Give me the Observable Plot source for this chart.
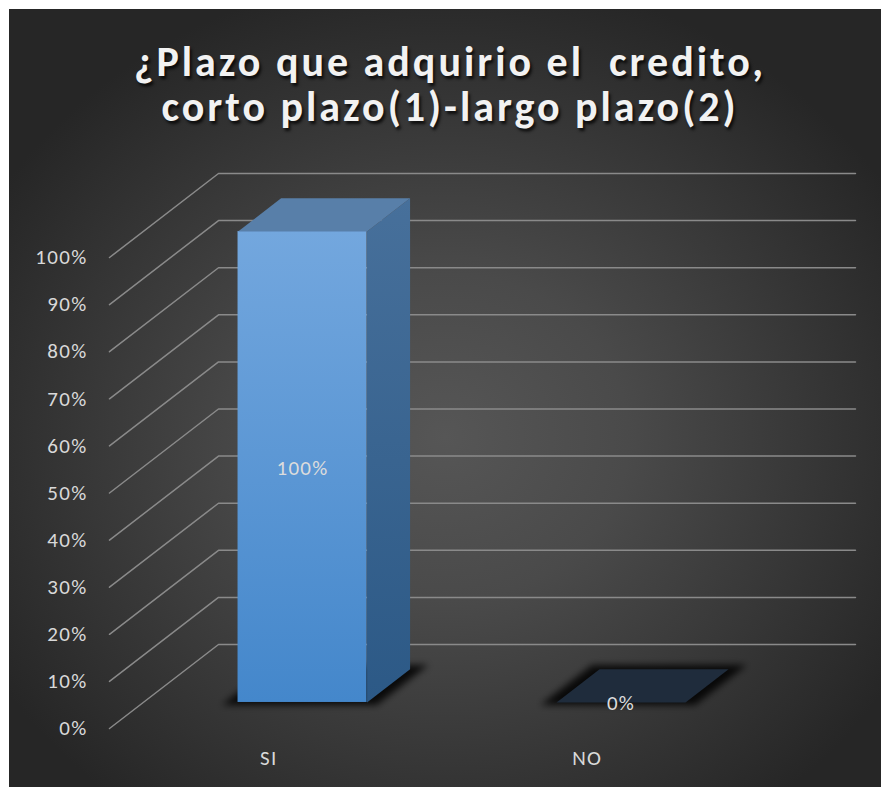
<!DOCTYPE html>
<html>
<head>
<meta charset="utf-8">
<script src="https://cdn.jsdelivr.net/npm/d3@7"></script>
<script src="https://cdn.jsdelivr.net/npm/@observablehq/plot@0.6"></script>
<style>
  html, body { margin: 0; padding: 0; background: #ffffff; }
  body { width: 883px; height: 787px; position: relative; overflow: hidden; }
  #card {
    position: absolute; left: 9px; top: 9px; width: 872px; height: 778px;
    background: radial-gradient(ellipse 60% 60% at 50% 55%, #565656 0%, #4a4a4a 35%, #262626 100%);
  }
  #title {
    height: 141px; box-sizing: border-box; padding-top: 30px; padding-left: 10px;
    text-align: center; color: #f2f2f2; font-family: Carlito, Calibri, Lato, sans-serif;
    font-weight: 700; font-size: 42px; line-height: 45px; letter-spacing: 3px; white-space: pre;
    text-shadow: 2px 3px 3px rgba(0,0,0,0.75);
  }
  #chart svg { display: block; }
  #chart svg text { letter-spacing: 1.3px; }
</style>
</head>
<body>
<div id="card">
  <div id="title"></div>
  <div id="chart"></div>
</div>
<script>
// ---- data ----
const titleLines = ["¿Plazo que adquirio el  credito,", "corto plazo(1)-largo plazo(2)"];
const categories = ["SI", "NO"];
const values = [100, 0];
const valueLabels = ["100%", "0%"];
const tickValues = [0, 10, 20, 30, 40, 50, 60, 70, 80, 90, 100];
const tickLabels = ["0%", "10%", "20%", "30%", "40%", "50%", "60%", "70%", "80%", "90%", "100%"];

document.getElementById("title").textContent = titleLines.join("\n");

// ---- 3D projection parameters (depth expressed in data units) ----
const DX = 0.3422;   // category units per unit depth
const DY = 17.83;    // value units per unit depth
const d0 = 0.31, d1 = 0.705; // bar depth span
const halfW = 0.2025;        // half bar width in category units
const nCat = categories.length;

const P = (x, y, depth) => ({x: x + depth * DX, y: y + depth * DY});

// gridlines: front-left -> back-left -> back-right
const grid = [];
tickValues.forEach(t => {
  [P(0, t, 0), P(0, t, 1), P(nCat, t, 1)].forEach(p => grid.push({...p, z: t}));
});

const bars = categories.map((c, i) => ({c, i, v: values[i], x0: i + 0.5 - halfW, x1: i + 0.5 + halfW}));

const frontFaces = bars.filter(b => b.v > 0).map(b => ({
  x1: b.x0 + d0 * DX, x2: b.x1 + d0 * DX, y1: d0 * DY, y2: b.v + d0 * DY
}));
const sideFaces = [], topFaces = [], shadows = [];
bars.forEach(b => {
  if (b.v > 0) {
    [P(b.x1, 0, d0), P(b.x1, 0, d1), P(b.x1, b.v, d1), P(b.x1, b.v, d0)].forEach(p => sideFaces.push({...p, z: b.c}));
  }
  const col = b.v > 0 ? "#587fa9" : "#1f2c3c";
  [P(b.x0, b.v, d0), P(b.x0, b.v, d1), P(b.x1, b.v, d1), P(b.x1, b.v, d0)].forEach(p => topFaces.push({...p, z: b.c, col}));
  const e = 0.04;
  [P(b.x0 - e, 0, d0 - 0.03), P(b.x0 - e, 0, d1 + 0.05), P(b.x1 + e, 0, d1 + 0.05), P(b.x1 + e, 0, d0 - 0.03)].forEach(p => shadows.push({...p, z: b.c}));
});

const labelFont = "Carlito, Calibri, Lato, sans-serif";

const svg = Plot.plot({
  width: 872,
  height: 637,
  margin: 0,
  style: {background: "transparent", overflow: "visible"},
  x: {type: "linear", domain: [0, nCat], range: [100, 737], axis: null},
  y: {type: "linear", domain: [0, 100], range: [578, 107], axis: null},
  color: {type: "identity"},
  marks: [
    Plot.line(grid, {x: "x", y: "y", z: "z", stroke: "#8a8a8a", strokeWidth: 1.5}),
    Plot.line(shadows, {x: "x", y: "y", z: "z", fill: "#000", fillOpacity: 0.85, stroke: "none", className: "shadow"}),
    Plot.rect(frontFaces, {x1: "x1", x2: "x2", y1: "y1", y2: "y2", fill: "url(#gFront)"}),
    Plot.line(sideFaces, {x: "x", y: "y", z: "z", fill: "url(#gSide)", stroke: "none"}),
    Plot.line(topFaces, {x: "x", y: "y", z: "z", fill: "col", stroke: "none"}),
    Plot.text(tickValues, {x: 0, y: d => d, text: (d, i) => tickLabels[i], dx: -22, textAnchor: "end", fill: "#d9d9d9", fontSize: 21, fontFamily: labelFont}),
    Plot.text(bars, {x: b => b.i + 0.5, y: 0, text: "c", dy: 30, fill: "#d9d9d9", fontSize: 21, fontFamily: labelFont}),
    Plot.text(bars, {x: b => b.i + 0.5 + d0 * DX, y: b => b.v / 2 + d0 * DY, text: (b, i) => valueLabels[i], dy: 1, fill: "#dcdcdc", fontSize: 21, fontFamily: labelFont})
  ]
});

// gradient + blur definitions
const defs = d3.select(svg).insert("defs", ":first-child");
const gf = defs.append("linearGradient").attr("id", "gFront").attr("x1", 0).attr("y1", 0).attr("x2", 0).attr("y2", 1);
gf.append("stop").attr("offset", "0%").attr("stop-color", "#73a7de");
gf.append("stop").attr("offset", "100%").attr("stop-color", "#4487cb");
const gs = defs.append("linearGradient").attr("id", "gSide").attr("x1", 0).attr("y1", 0).attr("x2", 0).attr("y2", 1);
gs.append("stop").attr("offset", "0%").attr("stop-color", "#47709b");
gs.append("stop").attr("offset", "100%").attr("stop-color", "#2c5986");
defs.append("filter").attr("id", "blur").attr("x", "-20%").attr("y", "-50%").attr("width", "140%").attr("height", "200%")
  .append("feGaussianBlur").attr("stdDeviation", 3.5);
d3.select(svg).selectAll(".shadow path").attr("filter", "url(#blur)");

document.getElementById("chart").appendChild(svg);
</script>
</body>
</html>
